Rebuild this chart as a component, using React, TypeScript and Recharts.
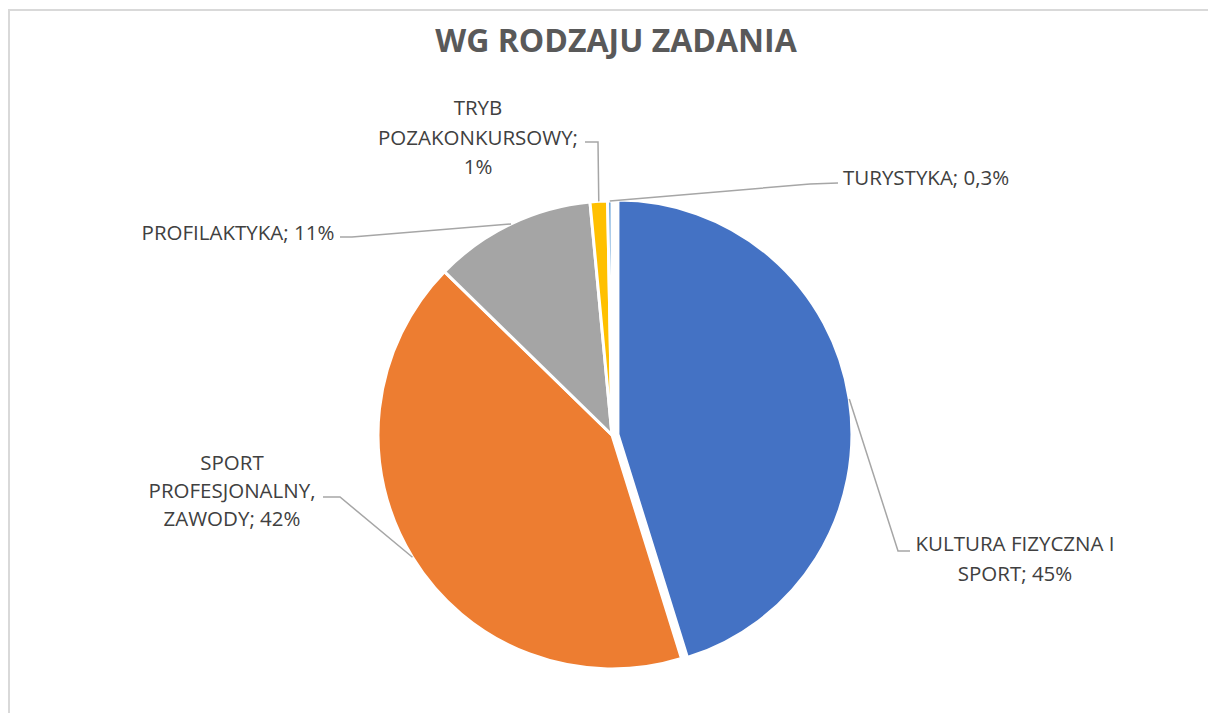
import React from 'react';
import { PieChart, Pie, Cell } from 'recharts';

const CATEGORIES = [
  'KULTURA FIZYCZNA I SPORT',
  'SPORT PROFESJONALNY, ZAWODY',
  'PROFILAKTYKA',
  'TRYB POZAKONKURSOWY',
  'TURYSTYKA',
];
const VALUES = [45.2, 42.1, 11.2, 1.2, 0.3];
const PCT_LABELS = ['45%', '42%', '11%', '1%', '0,3%'];
const LABEL_LINES = [
  ['KULTURA FIZYCZNA I', 'SPORT; 45%'],
  ['SPORT', 'PROFESJONALNY,', 'ZAWODY; 42%'],
  ['PROFILAKTYKA; 11%'],
  ['TRYB', 'POZAKONKURSOWY;', '1%'],
  ['TURYSTYKA; 0,3%'],
];
const COLORS = ['#4472C4', '#ED7D31', '#A5A5A5', '#FFC000', '#5B9BD5'];

const data = CATEGORIES.map((name, i) => ({ name, value: VALUES[i], pct: PCT_LABELS[i] }));

// layout (relative to pie centre)
const CX = 612;
const CY = 435;
const R = 234;
const EXPLODE = 6;
const LABEL_LAYOUT = [
  { elbow: [286, 116], tail: [298, 116], tx: 403, anchor: 'middle', ty: [108, 138] },
  { elbow: [-272, 62], tail: [-289, 62], tx: -380, anchor: 'middle', ty: [27, 55, 83] },
  { elbow: [-260, -198], tail: [-272, -198], tx: -374, anchor: 'middle', ty: [-203] },
  { elbow: [-14, -293], tail: [-27, -293], tx: -134, anchor: 'middle', ty: [-328, -298, -269] },
  { elbow: [198, -251], tail: [226, -252], tx: 231, anchor: 'start', ty: [-258] },
];

const total = VALUES.reduce((a, b) => a + b, 0);
const blueMid = ((VALUES[0] / 2) / total) * 2 * Math.PI;
const EX_DX = EXPLODE * Math.sin(blueMid);
const EX_DY = -EXPLODE * Math.cos(blueMid);

const FONT = '"Open Sans", sans-serif';
const RAD = Math.PI / 180;

const renderLabel = (props: any) => {
  const { cx, cy, midAngle, outerRadius, index } = props;
  const lay = LABEL_LAYOUT[index];
  const ox = index === 0 ? EX_DX : 0;
  const oy = index === 0 ? EX_DY : 0;
  const sx = cx + ox + outerRadius * Math.cos(-midAngle * RAD);
  const sy = cy + oy + outerRadius * Math.sin(-midAngle * RAD);
  const ex = CX + lay.elbow[0];
  const ey = CY + lay.elbow[1];
  const tx2 = CX + lay.tail[0];
  const ty2 = CY + lay.tail[1];
  return (
    <g key={`lbl-${index}`}>
      <polyline
        points={`${sx},${sy} ${ex},${ey} ${tx2},${ty2}`}
        fill="none"
        stroke="#A6A6A6"
        strokeWidth={1.5}
      />
      <text
        x={CX + lay.tx}
        textAnchor={lay.anchor}
        fill="#404040"
        fontFamily={FONT}
        fontSize={20.5}
      >
        {LABEL_LINES[index].map((line, j) => (
          <tspan key={j} x={CX + lay.tx} y={CY + lay.ty[j]} dominantBaseline="central">
            {line}
          </tspan>
        ))}
      </text>
    </g>
  );
};

export default function App() {
  return (
    <div style={{ position: 'fixed', left: 0, top: 0, width: 1208, height: 713, background: '#fff', overflow: 'hidden' }}>
      <div
        style={{
          position: 'absolute',
          left: 8,
          top: 9,
          width: 1210,
          height: 720,
          borderLeft: '2px solid #D9D9D9',
          borderTop: '2px solid #D9D9D9',
        }}
      />
      <div
        style={{
          position: 'absolute',
          left: 316,
          width: 600,
          top: 20,
          textAlign: 'center',
          fontFamily: FONT,
          fontWeight: 700,
          fontSize: 32,
          lineHeight: '40px',
          color: '#595959',
        }}
      >
        WG RODZAJU ZADANIA
      </div>
      <div style={{ position: 'absolute', left: 0, top: 0 }}>
        <PieChart width={1208} height={713} margin={{ top: 0, right: 0, bottom: 0, left: 0 }}>
          <Pie
            data={data}
            dataKey="value"
            nameKey="name"
            cx={CX}
            cy={CY}
            outerRadius={R}
            startAngle={90}
            endAngle={-270}
            stroke="#fff"
            strokeWidth={3}
            isAnimationActive={false}
            labelLine={false}
            label={renderLabel}
          >
            {data.map((d, i) => (
              <Cell
                key={d.name}
                fill={i === 0 ? 'transparent' : COLORS[i]}
                stroke={i === 0 ? 'none' : '#fff'}
              />
            ))}
          </Pie>
          <Pie
            data={data}
            dataKey="value"
            nameKey="name"
            cx={CX + EX_DX}
            cy={CY + EX_DY}
            outerRadius={R}
            startAngle={90}
            endAngle={-270}
            stroke="#fff"
            strokeWidth={3}
            isAnimationActive={false}
            labelLine={false}
          >
            {data.map((d, i) => (
              <Cell
                key={d.name}
                fill={i === 0 ? COLORS[0] : 'transparent'}
                stroke={i === 0 ? '#fff' : 'none'}
              />
            ))}
          </Pie>
        </PieChart>
      </div>
    </div>
  );
}
